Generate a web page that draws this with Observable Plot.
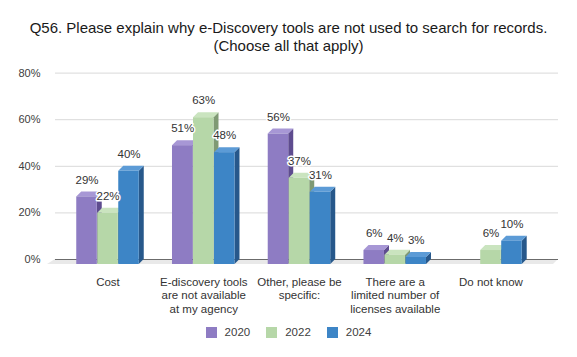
<!DOCTYPE html>
<html>
<head>
<meta charset="utf-8">
<script src="https://cdn.jsdelivr.net/npm/d3@7"></script>
<script src="https://cdn.jsdelivr.net/npm/@observablehq/plot@0.6"></script>
<style>
  html, body { margin: 0; padding: 0; background: #fff; }
  body { width: 577px; height: 357px; overflow: hidden; font-family: "Liberation Sans", Arial, sans-serif; }
  #title { box-sizing: border-box; height: 60px; padding-top: 19px; text-align: center; font-size: 15px; line-height: 18px; color: #1a1a1a; }
  #chart svg { display: block; }
  #legend { height: 24px; margin-top: 0; display: flex; justify-content: center; align-items: center; gap: 16px; font-size: 11.5px; color: #404040; }
  .item { display: flex; align-items: center; gap: 8px; }
  .sw { width: 11px; height: 11px; }
</style>
</head>
<body>
<div id="title">Q56. Please explain why e-Discovery tools are not used to search for records.<br>(Choose all that apply)</div>
<div id="chart"></div>
<div id="legend"></div>
<script>
// ---- data ----
const categories = ["Cost", "E-discovery tools are not available at my agency", "Other, please be specific:", "There are a limited number of licenses available", "Do not know"];
const categoryLabels = ["Cost", "E-discovery tools\nare not available\nat my agency", "Other, please be\nspecific:", "There are a\nlimited number of\nlicenses available", "Do not know"];
const years = ["2020", "2022", "2024"];
const values2020 = [29, 51, 56, 6, null];
const values2022 = [22, 63, 37, 4, 6];
const values2024 = [40, 48, 31, 3, 10];
const yTicks = [0, 20, 40, 60, 80];

// ---- styling ----
const frontColors = ["#8e7cc3", "#b6d7a8", "#3d85c6"];
const topColors = ["#a797d5", "#cae4bf", "#5c9bd6"];
const sideColors = ["#5e4c8f", "#7f9a74", "#27588b"];

const W = 577, H = 260, ML = 47, MR = 19, MT = 17.6, MB = 56;
const pxPerUnit = 95.74;
const ux = 1 / pxPerUnit;
const xmin = 0.5 - (107.5 - ML) * ux;
const xmax = xmin + (W - ML - MR) * ux;
const uy = 80 / (H - MT - MB);
const dxu = 5 * ux, e = 5 * uy;
const barW = 20.5 * ux, barStep = 21 * ux;

const series = [values2020, values2022, values2024];
const bars = [];
series.forEach((vals, s) => {
  vals.forEach((v, i) => {
    if (v == null) return;
    const c = i + 0.5 + (s - 1) * barStep;
    bars.push({s, i, v, id: s + "-" + i, x1: c - barW / 2, x2: c + barW / 2, xc: c, year: years[s], cat: categories[i]});
  });
});

const floor = [
  {x: xmin, y1: 0, y2: 0},
  {x: xmin + 8 * ux, y1: 0, y2: e},
  {x: xmax - 5 * ux, y1: 0, y2: e},
  {x: xmax, y1: e, y2: e}
];

const marks = [];
marks.push(Plot.area(floor, {x1: "x", y1: "y1", y2: "y2", fill: "#e9e9e9", curve: "linear"}));
marks.push(Plot.ruleY(yTicks.filter(d => d > 0), {y: d => d + e, x1: xmin + 8 * ux, x2: xmax, stroke: "#d9d9d9", strokeWidth: 1}));
marks.push(Plot.ruleY([0], {y: d => d + e, x1: xmin + 8 * ux, x2: xmax, stroke: "#6b6b6b", strokeWidth: 1.2}));

for (let s = 0; s < 3; s++) {
  const bs = bars.filter(b => b.s === s);
  const side = bs.flatMap(b => [
    {id: b.id, x: b.x2, y1: 0, y2: b.v},
    {id: b.id, x: b.x2 + dxu, y1: e, y2: b.v + e}
  ]);
  const top = bs.flatMap(b => [
    {id: b.id, x: b.x1, y1: b.v, y2: b.v},
    {id: b.id, x: b.x1 + dxu, y1: b.v, y2: b.v + e},
    {id: b.id, x: b.x2, y1: b.v, y2: b.v + e},
    {id: b.id, x: b.x2 + dxu, y1: b.v + e, y2: b.v + e}
  ]);
  marks.push(Plot.area(side, {x1: "x", y1: "y1", y2: "y2", z: "id", fill: sideColors[s], curve: "linear"}));
  marks.push(Plot.area(top, {x1: "x", y1: "y1", y2: "y2", z: "id", fill: topColors[s], curve: "linear"}));
  marks.push(Plot.rectY(bs, {x1: "x1", x2: "x2", y1: 0, y2: "v", fill: frontColors[s]}));
}

marks.push(Plot.text(bars, {x: "xc", y: "v", dy: -17, text: d => d.v + "%", fill: "#333", stroke: "white", strokeWidth: 3, fontSize: 11.5}));

marks.push(Plot.text(yTicks, {y: d => d + e, frameAnchor: "left", textAnchor: "end", dx: -7, text: d => d + "%", fill: "#404040", fontSize: 11}));

marks.push(Plot.text(categoryLabels, {x: (d, i) => i + 0.5, text: d => d, frameAnchor: "bottom", lineAnchor: "top", dy: 12, lineHeight: 1.157, fill: "#333", fontSize: 11.5}));

const chart = Plot.plot({
  width: W, height: H,
  marginLeft: ML, marginRight: MR, marginTop: MT, marginBottom: MB,
  x: {type: "linear", domain: [xmin, xmax], axis: null},
  y: {domain: [0, 80], axis: null},
  style: {fontFamily: "'Liberation Sans', Arial, sans-serif", fontSize: "11px", background: "white", overflow: "visible"},
  marks
});
document.getElementById("chart").appendChild(chart);

const legend = document.getElementById("legend");
years.forEach((y, s) => {
  const it = document.createElement("div");
  it.className = "item";
  const sw = document.createElement("div");
  sw.className = "sw";
  sw.style.background = frontColors[s];
  const t = document.createElement("span");
  t.textContent = y;
  it.appendChild(sw); it.appendChild(t);
  legend.appendChild(it);
});
</script>
</body>
</html>
